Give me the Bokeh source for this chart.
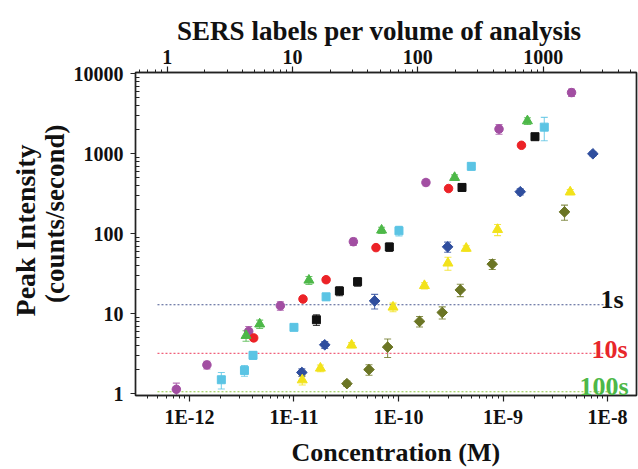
import math
from bokeh.plotting import figure
from bokeh.models import (LogAxis, Range1d, LogScale, FixedTicker, Whisker, TeeHead,
                          ColumnDataSource, Label, CustomJSTickFormatter)
from bokeh.embed import file_html
from bokeh.resources import INLINE

# ---------------- data ----------------
x_ticks = [1e-12, 1e-11, 1e-10, 1e-9, 1e-8]
y_ticks = [1, 10, 100, 1000, 10000]
sers_ticks = [1, 10, 100, 1000]

purple_x = [7.5e-13, 1.47e-12, 3.69e-12, 7.41e-12, 3.70e-11, 1.83e-10, 9.15e-10, 4.52e-9]
purple_y = [1.14, 2.30, 6.04, 12.6, 79.7, 438, 2036, 5826]
purple_e = [0.22, 0.25, 0.9, 1.5, 8, 40, 280, 600]

red_x = [4.12e-12, 1.22e-11, 2.03e-11, 6.09e-11, 3.01e-10, 1.50e-9]
red_y = [5.0, 15.3, 26.7, 67.2, 368, 1277]
red_e = [0.4, 1.0, 2.0, 4, 20, 60]

green_x = [3.48e-12, 4.70e-12, 1.39e-11, 6.89e-11, 3.44e-10, 1.71e-9]
green_y = [5.35, 7.44, 26.3, 111, 505, 2578]
green_e = [0.8, 0.9, 3, 10, 40, 250]

black_x = [1.64e-11, 2.72e-11, 4.06e-11, 8.17e-11, 4.05e-10, 2.02e-9]
black_y = [8.43, 19.3, 25.2, 68.4, 380, 1636]
black_e = [1.3, 2.5, 3, 8, 40, 120]

cyan_x = [2.02e-12, 3.36e-12, 4.06e-12, 1.0e-11, 2.03e-11, 1.01e-10, 4.97e-10, 2.48e-9]
cyan_y = [1.50, 1.96, 3.03, 6.77, 16.3, 109, 697, 2154]
cyan_e = [0.35, 0.3, 0.35, 0.5, 1.5, 15, 70, 700]

blue_x = [1.19e-11, 1.97e-11, 5.91e-11, 2.95e-10, 1.46e-9, 7.23e-9]
blue_y = [1.85, 4.10, 14.5, 68.7, 336, 1000]
blue_e = [0.2, 0.4, 3, 10, 30, 60]

yellow_x = [1.20e-11, 1.79e-11, 3.56e-11, 8.86e-11, 1.77e-10, 2.97e-10, 4.44e-10, 8.86e-10, 4.39e-9]
yellow_y = [1.49, 2.09, 4.06, 12.1, 22.5, 43.0, 65.8, 113, 333]
yellow_e = [0.2, 0.2, 0.3, 1.5, 2, 8, 5, 18, 25]

olive_x = [3.21e-11, 5.22e-11, 7.87e-11, 1.59e-10, 2.62e-10, 3.90e-10, 7.88e-10, 3.87e-9]
olive_y = [1.34, 2.01, 3.84, 8.04, 10.4, 19.9, 41.8, 188]
olive_e = [0.1, 0.3, 1.0, 1.2, 1.8, 3.5, 6, 40]

limit_names = ["1s", "10s", "100s"]
limit_values = [13.0, 3.2, 1.06]
limit_x = [4.95e-13, 1.0e-8]

# ---------------- figure ----------------
SERIF = "Liberation Serif"
NB = "\u00a0"

p = figure(width=638, height=469, x_axis_type="log", y_axis_type="log",
           x_range=Range1d(3.05e-13, 1.89e-8), y_range=Range1d(0.953, 10380),
           output_backend="svg", toolbar_location=None,
           min_border_left=135, min_border_right=2, min_border_top=72, min_border_bottom=70)
p.background_fill_color = "white"
p.border_fill_color = "white"
p.outline_line_color = "#222222"
p.outline_line_width = 1.4
p.xgrid.visible = False
p.ygrid.visible = False

p.extra_x_ranges = {"sers": Range1d(0.558, 5560)}
p.extra_x_scales = {"sers": LogScale()}


def minors(lo, hi):
    out = []
    for k in range(lo, hi):
        for m in range(2, 10):
            out.append(m * 10.0 ** k)
    return out


def style_axis(ax):
    ax.axis_line_color = "#222222"
    ax.axis_line_width = 1.4
    ax.major_tick_line_color = "#222222"
    ax.minor_tick_line_color = "#222222"
    ax.major_tick_line_width = 1.2
    ax.minor_tick_line_width = 1.0
    ax.major_label_text_font = SERIF
    ax.major_label_text_font_style = "bold"
    ax.major_label_text_font_size = "20px"
    ax.major_label_text_color = "#111111"
    ax.axis_label_text_font = SERIF
    ax.axis_label_text_font_style = "bold"
    ax.axis_label_text_color = "#111111"


# bottom axis
xa = p.xaxis[0]
xa.ticker = FixedTicker(ticks=x_ticks, minor_ticks=minors(-13, -8))
xa.formatter = CustomJSTickFormatter(code="return '1E' + Math.round(Math.log10(tick));")
style_axis(xa)
xa.major_tick_out = 6
xa.major_tick_in = 0
xa.minor_tick_out = 3
xa.minor_tick_in = 0
xa.major_label_standoff = 4
xa.axis_label = NB * 3 + "Concentration (M)"
xa.axis_label_text_font_size = "26px"
xa.axis_label_standoff = 7

# left axis
ya = p.yaxis[0]
ya.ticker = FixedTicker(ticks=y_ticks, minor_ticks=minors(0, 4))
ya.formatter = CustomJSTickFormatter(code="return Math.round(tick).toString();")
style_axis(ya)
ya.major_tick_out = 5
ya.major_tick_in = 0
ya.minor_tick_out = 0
ya.minor_tick_in = 4
ya.major_label_standoff = 7
ya.axis_label = NB * 6 + "(counts/second)"
ya.axis_label_text_font_size = "27px"
ya.axis_label_standoff = 1

# outer left axis carrying the first title line
ya2 = LogAxis(ticker=FixedTicker(ticks=[]), axis_label=NB + "Peak Intensity")
style_axis(ya2)
ya2.axis_line_color = None
ya2.major_tick_out = 0
ya2.major_tick_in = 0
ya2.minor_tick_out = 0
ya2.minor_tick_in = 0
ya2.major_label_standoff = 0
ya2.axis_label_text_font_size = "28px"
ya2.axis_label_standoff = -4
p.add_layout(ya2, "left")

# top axis (SERS labels)
ta = LogAxis(x_range_name="sers")
ta.ticker = FixedTicker(ticks=sers_ticks, minor_ticks=minors(-1, 4))
ta.formatter = CustomJSTickFormatter(code="return Math.round(tick).toString();")
style_axis(ta)
ta.major_tick_out = 6
ta.major_tick_in = 0
ta.minor_tick_out = 3
ta.minor_tick_in = 0
ta.major_label_standoff = 3
ta.axis_label = "SERS labels per volume of analysis" + NB * 2
ta.axis_label_text_font_size = "27px"
ta.axis_label_standoff = 1
p.add_layout(ta, "above")

# right border as an axis without ticks
ra = LogAxis(ticker=FixedTicker(ticks=[]))
style_axis(ra)
ra.major_tick_out = 0
ra.major_tick_in = 0
ra.minor_tick_out = 0
ra.minor_tick_in = 0
ra.major_label_standoff = 0
p.add_layout(ra, "right")

# threshold lines
line_colors = ["#4a5890", "#f0607a", "#8cc63f"]
for v, c in zip(limit_values, line_colors):
    p.line(limit_x, [v, v], line_color=c, line_width=1.1, line_dash="2 2")

# series
series = [
    (purple_x, purple_y, purple_e, "#a24ea2", "circle", 8.5, 0),
    (red_x, red_y, red_e, "#ec2227", "circle", 8.5, 0),
    (green_x, green_y, green_e, "#4db848", "triangle", 10, 0),
    (black_x, black_y, black_e, "#111111", "square", 8, 0),
    (cyan_x, cyan_y, cyan_e, "#5bc4e4", "square", 8, 0),
    (blue_x, blue_y, blue_e, "#2f4e9e", "square", 7.5, math.pi / 4),
    (yellow_x, yellow_y, yellow_e, "#f2e21a", "triangle", 10, 0),
    (olive_x, olive_y, olive_e, "#6b7524", "square", 7.5, math.pi / 4),
]
for xs, ys, es, col, mk, sz, ang in series:
    src = ColumnDataSource(dict(x=xs, y=ys,
                                upper=[a + b for a, b in zip(ys, es)],
                                lower=[a - b for a, b in zip(ys, es)]))
    w = Whisker(source=src, base="x", upper="upper", lower="lower", dimension="height",
                line_color=col, line_alpha=0.8, line_width=1.1,
                upper_head=TeeHead(size=7, line_color=col, line_alpha=0.8, line_width=1.1),
                lower_head=TeeHead(size=7, line_color=col, line_alpha=0.8, line_width=1.1))
    p.add_layout(w)
    p.scatter("x", "y", source=src, marker=mk, size=sz, angle=ang,
              fill_color=col, line_color=col)

# threshold labels
lab_colors = ["#111111", "#e8262a", "#4db848"]
lab_pos = [(488, 96), (492, 46), (493, 9)]
for name, c, (lx, ly) in zip(limit_names, lab_colors, lab_pos):
    p.add_layout(Label(x=lx, y=ly, x_units="screen", y_units="screen", text=name,
                       text_align="right", text_baseline="alphabetic",
                       text_font=SERIF, text_font_style="bold", text_font_size="26px",
                       text_color=c))

open("out.html", "w").write(file_html(p, INLINE))
